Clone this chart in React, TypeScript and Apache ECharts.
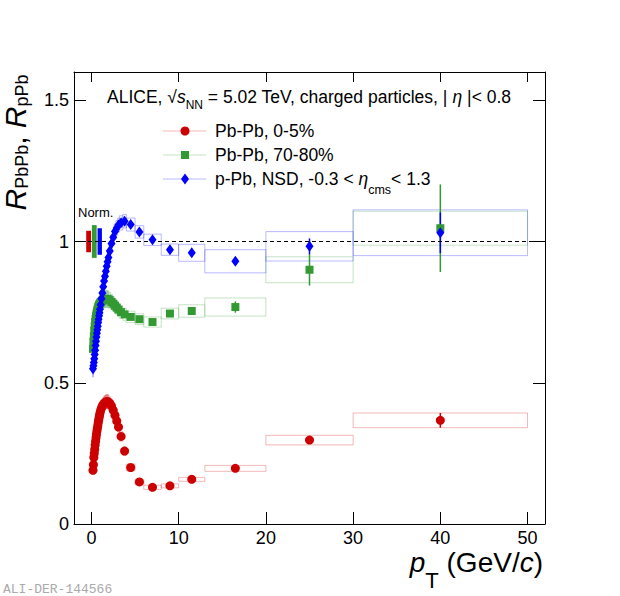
import React, { useEffect, useRef } from "react";
import * as echarts from "echarts";

const FONT = "'Liberation Sans', Arial, Helvetica, sans-serif";

// pT bin centres and edges (GeV/c)
const pT = [0.175, 0.225, 0.275, 0.325, 0.375, 0.425, 0.475, 0.525, 0.575, 0.625, 0.675, 0.725, 0.775, 0.825, 0.875, 0.925, 0.975,
  1.05, 1.15, 1.25, 1.35, 1.45, 1.55, 1.65, 1.75, 1.85, 1.95,
  2.1, 2.3, 2.5, 2.7, 2.9, 3.1,
  3.4, 3.8, 4.5, 5.5, 7, 9, 11.5, 16.5, 25, 40];
const binLow = [0.15, 0.2, 0.25, 0.3, 0.35, 0.4, 0.45, 0.5, 0.55, 0.6, 0.65, 0.7, 0.75, 0.8, 0.85, 0.9, 0.95,
  1.0, 1.1, 1.2, 1.3, 1.4, 1.5, 1.6, 1.7, 1.8, 1.9,
  2.0, 2.2, 2.4, 2.6, 2.8, 3.0,
  3.2, 3.6, 4, 5, 6, 8, 10, 13, 20, 30];
const binHigh = [0.2, 0.25, 0.3, 0.35, 0.4, 0.45, 0.5, 0.55, 0.6, 0.65, 0.7, 0.75, 0.8, 0.85, 0.9, 0.95, 1.0,
  1.1, 1.2, 1.3, 1.4, 1.5, 1.6, 1.7, 1.8, 1.9, 2.0,
  2.2, 2.4, 2.6, 2.8, 3.0, 3.2,
  3.6, 4, 5, 6, 8, 10, 13, 20, 30, 50];

// Pb-Pb 0-5%
const rPbPbCentral = [0.19, 0.21, 0.235, 0.25, 0.265, 0.28, 0.293, 0.305, 0.317, 0.328, 0.338, 0.348, 0.358, 0.367, 0.376, 0.384, 0.392,
  0.402, 0.411, 0.418, 0.423, 0.427, 0.43, 0.432, 0.433, 0.433, 0.432,
  0.428, 0.418, 0.403, 0.385, 0.365, 0.343,
  0.31, 0.258, 0.2, 0.149, 0.13, 0.135, 0.158, 0.197, 0.297, 0.367];
const statCentral = [0.002, 0.002, 0.002, 0.002, 0.002, 0.002, 0.002, 0.002, 0.002, 0.002, 0.002, 0.002, 0.002, 0.002, 0.002, 0.002, 0.002,
  0.002, 0.002, 0.002, 0.002, 0.002, 0.002, 0.002, 0.002, 0.002, 0.002,
  0.002, 0.002, 0.002, 0.002, 0.002, 0.002,
  0.002, 0.002, 0.002, 0.002, 0.002, 0.003, 0.004, 0.006, 0.012, 0.026];
const sysCentral = [0.013, 0.014, 0.015, 0.016, 0.016, 0.017, 0.018, 0.018, 0.019, 0.02, 0.02, 0.021, 0.021, 0.022, 0.022, 0.023, 0.023,
  0.024, 0.024, 0.025, 0.025, 0.025, 0.025, 0.025, 0.025, 0.025, 0.025,
  0.022, 0.021, 0.02, 0.02, 0.019, 0.018,
  0.017, 0.015, 0.012, 0.009, 0.0075, 0.007, 0.007, 0.0105, 0.017, 0.026];

// Pb-Pb 70-80%
const rPbPbPeriph = [0.62, 0.645, 0.665, 0.685, 0.7, 0.715, 0.725, 0.735, 0.743, 0.75, 0.756, 0.762, 0.767, 0.771, 0.775, 0.778, 0.781,
  0.785, 0.788, 0.791, 0.793, 0.795, 0.796, 0.797, 0.797, 0.796, 0.795,
  0.792, 0.786, 0.78, 0.773, 0.766, 0.759,
  0.75, 0.742, 0.733, 0.725, 0.715, 0.745, 0.754, 0.768, 0.9, 1.047];
const statPeriph = [0.003, 0.003, 0.003, 0.003, 0.003, 0.003, 0.003, 0.003, 0.003, 0.003, 0.003, 0.003, 0.003, 0.003, 0.003, 0.003, 0.003,
  0.003, 0.003, 0.003, 0.003, 0.003, 0.003, 0.003, 0.003, 0.003, 0.003,
  0.003, 0.003, 0.003, 0.003, 0.003, 0.003,
  0.003, 0.003, 0.003, 0.003, 0.006, 0.008, 0.012, 0.02, 0.056, 0.155];
const sysPeriph = [0.03, 0.03, 0.03, 0.03, 0.03, 0.03, 0.03, 0.03, 0.03, 0.03, 0.03, 0.03, 0.03, 0.03, 0.03, 0.03, 0.03,
  0.03, 0.03, 0.03, 0.03, 0.03, 0.03, 0.03, 0.03, 0.03, 0.03,
  0.028, 0.027, 0.026, 0.025, 0.024, 0.023,
  0.022, 0.021, 0.02, 0.019, 0.018, 0.019, 0.022, 0.032, 0.046, 0.06];

// p-Pb NSD
const rpPb = [0.55, 0.56, 0.572, 0.585, 0.6, 0.615, 0.632, 0.647, 0.662, 0.675, 0.688, 0.7, 0.713, 0.725, 0.737, 0.748, 0.76,
  0.776, 0.797, 0.818, 0.84, 0.86, 0.877, 0.895, 0.912, 0.928, 0.943,
  0.966, 0.993, 1.015, 1.035, 1.048, 1.058,
  1.066, 1.072, 1.06, 1.034, 1.006, 0.971, 0.96, 0.93, 0.983, 1.031];
const statpPb = [0.002, 0.002, 0.002, 0.002, 0.002, 0.002, 0.002, 0.002, 0.002, 0.002, 0.002, 0.002, 0.002, 0.002, 0.002, 0.002, 0.002,
  0.002, 0.002, 0.002, 0.002, 0.002, 0.002, 0.002, 0.002, 0.002, 0.002,
  0.002, 0.002, 0.002, 0.002, 0.002, 0.002,
  0.002, 0.002, 0.002, 0.002, 0.004, 0.006, 0.008, 0.012, 0.028, 0.072];
const syspPb = [0.03, 0.03, 0.03, 0.03, 0.03, 0.03, 0.03, 0.03, 0.03, 0.03, 0.03, 0.03, 0.03, 0.03, 0.03, 0.03, 0.03,
  0.03, 0.03, 0.03, 0.03, 0.03, 0.03, 0.03, 0.03, 0.03, 0.03,
  0.03, 0.03, 0.028, 0.027, 0.026, 0.025,
  0.025, 0.024, 0.023, 0.022, 0.02, 0.02, 0.03, 0.041, 0.052, 0.081];

// normalisation uncertainty boxes (at R = 1)
const normLow = [-0.6, 0.05, 0.7];
const normHigh = [-0.05, 0.6, 1.2];
const normHalf = [0.038, 0.058, 0.047];

const xTicks = [0, 10, 20, 30, 40, 50];
const yTicks = [0, 0.5, 1, 1.5];

const legendLabels = ["Pb-Pb, 0-5%", "Pb-Pb, 70-80%"];

const RED = "#cc0000";
const GREEN = "#339933";
const BLUE = "#0000ff";
const RED_L = "rgba(204,0,0,0.28)";
const GREEN_L = "rgba(51,153,51,0.28)";
const BLUE_L = "rgba(0,0,255,0.28)";
const normColors = [RED, GREEN, BLUE];

type Seg = { t: string; size: number; italic?: boolean; dy?: number };

let measureCtx: CanvasRenderingContext2D | null = null;
function fontOf(s: Seg) {
  return `${s.italic ? "italic " : ""}${s.size}px ${FONT}`;
}
function measure(s: Seg) {
  if (!measureCtx) measureCtx = document.createElement("canvas").getContext("2d");
  if (!measureCtx) return s.t.length * s.size * 0.55;
  measureCtx.font = fontOf(s);
  return measureCtx.measureText(s.t).width;
}
// lays segments on a baseline starting at x0 (local coordinates)
function runText(segs: Seg[], x0: number, baseline: number, z = 10) {
  let x = x0;
  return segs.map((s) => {
    const w = measure(s);
    const el = {
      type: "text",
      x,
      y: baseline + (s.dy || 0) - 0.3465 * s.size,
      z,
      style: {
        text: s.t,
        font: fontOf(s),
        fill: "#000",
        align: "left",
        textAlign: "left",
        verticalAlign: "middle",
        textVerticalAlign: "middle",
      },
    };
    x += w;
    return el;
  });
}
function runWidth(segs: Seg[]) {
  return segs.reduce((a, s) => a + measure(s), 0);
}

function boxSeries(vals: number[], sys: number[], color: string) {
  return {
    type: "custom",
    xAxisIndex: 0,
    yAxisIndex: 0,
    silent: true,
    z: 1,
    clip: false,
    encode: { x: [0, 1], y: [2] },
    data: pT.map((_, i) => [binLow[i], binHigh[i], vals[i], sys[i]]),
    renderItem: (params: any, api: any) => {
      const a = api.coord([api.value(0), api.value(2) + api.value(3)]);
      const b = api.coord([api.value(1), api.value(2) - api.value(3)]);
      return {
        type: "rect",
        shape: { x: a[0], y: a[1], width: b[0] - a[0], height: b[1] - a[1] },
        style: { fill: "none", stroke: color, lineWidth: 1 },
      };
    },
  };
}

function errSeries(vals: number[], err: number[], color: string) {
  return {
    type: "custom",
    xAxisIndex: 0,
    yAxisIndex: 0,
    silent: true,
    z: 3,
    clip: false,
    encode: { x: [0], y: [1] },
    data: pT.map((x, i) => [x, vals[i], err[i]]),
    renderItem: (params: any, api: any) => {
      const a = api.coord([api.value(0), api.value(1) - api.value(2)]);
      const b = api.coord([api.value(0), api.value(1) + api.value(2)]);
      return {
        type: "line",
        shape: { x1: a[0], y1: a[1], x2: b[0], y2: b[1] },
        style: { stroke: color, lineWidth: 1.5 },
      };
    },
  };
}

const axisCommonX = {
  type: "value",
  min: -2,
  max: 52,
  splitLine: { show: false },
  axisLine: { show: true, onZero: false, lineStyle: { color: "#000", width: 1 } },
};
const axisCommonY = {
  type: "value",
  min: 0,
  max: 1.6,
  splitLine: { show: false },
  axisLine: { show: true, onZero: false, lineStyle: { color: "#000", width: 1 } },
};

function buildOption() {
  const titleSegs: Seg[] = [
    { t: "ALICE, √", size: 17.5 },
    { t: "s", size: 17.5, italic: true },
    { t: "NN", size: 12, dy: 6 },
    { t: " = 5.02 TeV, charged particles, | ", size: 17.5 },
    { t: "η", size: 17.5, italic: true },
    { t: " |< 0.8", size: 17.5 },
  ];
  const legend3Segs: Seg[] = [
    { t: "p-Pb, NSD, -0.3 < ", size: 17.5 },
    { t: "η", size: 17.5, italic: true },
    { t: "cms", size: 12.5, dy: 9 },
    { t: "< 1.3", size: 17.5 },
  ];
  const yTitleSegs: Seg[] = [
    { t: "R", size: 30, italic: true },
    { t: "PbPb", size: 18, dy: 2.5 },
    { t: ", ", size: 30 },
    { t: "R", size: 30, italic: true },
    { t: "pPb", size: 18, dy: 2.5 },
  ];
  const xTitleSegs: Seg[] = [
    { t: "p", size: 28, italic: true },
    { t: "T", size: 22, dy: 16 },
    { t: " (GeV/", size: 28 },
    { t: "c", size: 28, italic: true },
    { t: ")", size: 28 },
  ];
  const yLen = runWidth(yTitleSegs);
  const xLen = runWidth(xTitleSegs);

  return {
    animation: false,
    backgroundColor: "#fff",
    grid: { left: 74, right: 75, top: 72, bottom: 72, containLabel: false },
    xAxis: [
      {
        ...axisCommonX,
        position: "bottom",
        axisTick: { show: true, inside: true, length: 12, customValues: xTicks, lineStyle: { color: "#000", width: 1 } },
        axisLabel: { show: true, customValues: xTicks, color: "#000", fontSize: 18, fontFamily: FONT, margin: 5 },
      },
      {
        ...axisCommonX,
        position: "top",
        axisTick: { show: true, inside: true, length: 10, customValues: xTicks, lineStyle: { color: "#000", width: 1 } },
        axisLabel: { show: false },
      },
    ],
    yAxis: [
      {
        ...axisCommonY,
        position: "left",
        axisTick: { show: true, inside: true, length: 12, customValues: yTicks, lineStyle: { color: "#000", width: 1 } },
        axisLabel: { show: true, customValues: yTicks, color: "#000", fontSize: 18, fontFamily: FONT, margin: 5 },
      },
      {
        ...axisCommonY,
        position: "right",
        axisTick: { show: true, inside: true, length: 12, customValues: yTicks, lineStyle: { color: "#000", width: 1 } },
        axisLabel: { show: false },
      },
    ],
    series: [
      boxSeries(rPbPbCentral, sysCentral, RED_L),
      boxSeries(rPbPbPeriph, sysPeriph, GREEN_L),
      boxSeries(rpPb, syspPb, BLUE_L),
      {
        type: "custom",
        xAxisIndex: 0,
        yAxisIndex: 0,
        silent: true,
        z: 2,
        clip: false,
        encode: { x: [0, 1], y: [2] },
        data: normLow.map((l, i) => [l, normHigh[i], 1, normHalf[i], i]),
        renderItem: (params: any, api: any) => {
          const a = api.coord([api.value(0), api.value(2) + api.value(3)]);
          const b = api.coord([api.value(1), api.value(2) - api.value(3)]);
          return {
            type: "rect",
            shape: { x: a[0], y: a[1], width: b[0] - a[0], height: b[1] - a[1] },
            style: { fill: normColors[api.value(4)], stroke: "none" },
          };
        },
      },
      errSeries(rPbPbCentral, statCentral, RED),
      errSeries(rPbPbPeriph, statPeriph, GREEN),
      errSeries(rpPb, statpPb, BLUE),
      {
        type: "scatter",
        name: legendLabels[0],
        z: 5,
        symbol: "circle",
        symbolSize: 9,
        itemStyle: { color: RED, opacity: 1 },
        data: pT.map((x, i) => [x, rPbPbCentral[i]]),
        markLine: {
          silent: true,
          symbol: "none",
          label: { show: false },
          lineStyle: { color: "#000", type: [4, 3], width: 1 },
          data: [{ yAxis: 1 }],
        },
      },
      {
        type: "scatter",
        name: legendLabels[1],
        z: 5,
        symbol: "rect",
        symbolSize: 8,
        itemStyle: { color: GREEN, opacity: 1 },
        data: pT.map((x, i) => [x, rPbPbPeriph[i]]),
      },
      {
        type: "scatter",
        name: "p-Pb, NSD",
        z: 5,
        symbol: "diamond",
        symbolSize: [8, 11],
        itemStyle: { color: BLUE, opacity: 1 },
        data: pT.map((x, i) => [x, rpPb[i]]),
      },
    ],
    graphic: [
      // header
      ...runText(titleSegs, 107, 103.3),
      // legend
      { type: "line", z: 10, shape: { x1: 163, y1: 131, x2: 206, y2: 131 }, style: { stroke: RED_L, lineWidth: 1 } },
      { type: "line", z: 10, shape: { x1: 163, y1: 155, x2: 206, y2: 155 }, style: { stroke: GREEN_L, lineWidth: 1 } },
      { type: "line", z: 10, shape: { x1: 163, y1: 179, x2: 206, y2: 179 }, style: { stroke: BLUE_L, lineWidth: 1 } },
      { type: "circle", z: 11, shape: { cx: 185, cy: 131, r: 4.5 }, style: { fill: RED } },
      { type: "rect", z: 11, shape: { x: 181, y: 151, width: 8, height: 8 }, style: { fill: GREEN } },
      { type: "polygon", z: 11, shape: { points: [[185, 173.5], [189, 179], [185, 184.5], [181, 179]] }, style: { fill: BLUE } },
      ...runText([{ t: legendLabels[0], size: 17.5 }], 215, 137),
      ...runText([{ t: legendLabels[1], size: 17.5 }], 215, 161),
      ...runText(legend3Segs, 215, 185),
      // Norm. label
      ...runText([{ t: "Norm.", size: 13 }], 78, 217),
      // y axis title (rotated)
      {
        type: "group",
        x: 26,
        y: 142.5 + yLen / 2,
        rotation: Math.PI / 2,
        children: runText(yTitleSegs, 0, 0),
      },
      // x axis title
      ...runText(xTitleSegs, 543 - xLen, 572),
      // watermark
      {
        type: "text", x: 3, y: 589, z: 10,
        style: { text: "ALI-DER-144566", font: `13px 'Liberation Mono', 'DejaVu Sans Mono', monospace`, fill: "#aaaaaa", align: "left", textAlign: "left", verticalAlign: "middle", textVerticalAlign: "middle" },
      },
    ],
  };
}

export default function App() {
  const ref = useRef<HTMLDivElement>(null);
  useEffect(() => {
    document.body.style.margin = "0";
    const chart = echarts.init(ref.current as HTMLDivElement, null, { renderer: "svg" });
    chart.setOption(buildOption() as any);
    return () => chart.dispose();
  }, []);
  return <div ref={ref} style={{ width: 620, height: 596, background: "#fff" }} />;
}
